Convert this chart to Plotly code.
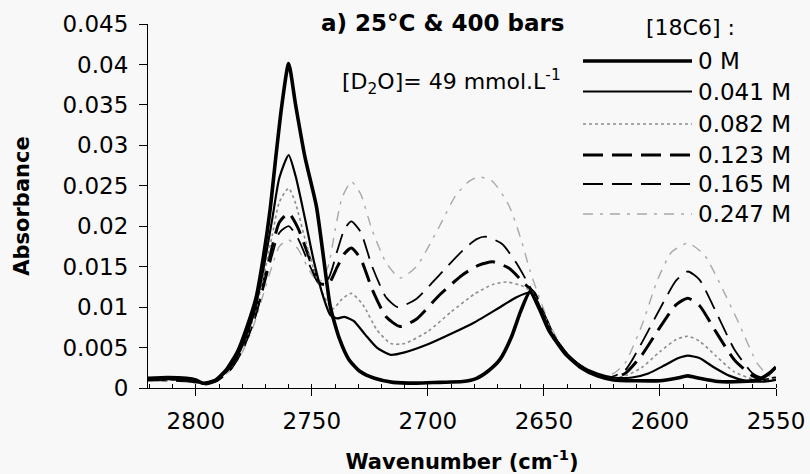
import plotly.graph_objects as go

# ---------------- data ----------------
labels = ["0 M", "0.041 M", "0.082 M", "0.123 M", "0.165 M", "0.247 M"]

wn0 = [2821, 2812, 2804, 2800, 2797, 2792, 2787, 2782, 2778, 2774, 2771, 2768, 2765.5, 2763, 2760, 2757, 2753, 2748, 2745, 2742, 2738, 2734, 2729, 2723, 2715, 2705, 2695, 2685, 2679, 2674, 2669, 2664, 2660, 2656, 2652, 2648, 2641, 2634, 2627, 2620, 2610, 2600, 2593, 2588, 2583, 2575, 2565, 2558, 2553, 2550]
a0 = [0.0012, 0.0013, 0.0012, 0.0010, 0.0006, 0.0009, 0.0022, 0.0045, 0.0075, 0.0112, 0.0160, 0.0220, 0.0286, 0.0348, 0.0401, 0.0350, 0.0286, 0.0224, 0.0162, 0.0100, 0.0060, 0.0035, 0.0020, 0.0012, 0.0007, 0.0006, 0.0007, 0.0008, 0.0012, 0.0021, 0.0035, 0.0063, 0.0095, 0.0119, 0.0098, 0.0072, 0.0043, 0.0025, 0.0015, 0.0010, 0.0009, 0.0009, 0.0012, 0.0015, 0.0012, 0.0008, 0.0008, 0.0010, 0.0018, 0.0026]

wn1 = [2821, 2812, 2804, 2799, 2796, 2791, 2785, 2780, 2775, 2771, 2767, 2764, 2760, 2757, 2753, 2749, 2745, 2742, 2739, 2736, 2732, 2727, 2722, 2716, 2710, 2700, 2690, 2680, 2670, 2662, 2656, 2652, 2648, 2641, 2634, 2627, 2620, 2612, 2605, 2598, 2592, 2588, 2583, 2577, 2570, 2563, 2555, 2550]
a1 = [0.0010, 0.0011, 0.0009, 0.0007, 0.0005, 0.0010, 0.0026, 0.0052, 0.0092, 0.0145, 0.0210, 0.0260, 0.0288, 0.0262, 0.0210, 0.0155, 0.0112, 0.0090, 0.0086, 0.0088, 0.0083, 0.0066, 0.0050, 0.0041, 0.0044, 0.0054, 0.0067, 0.0081, 0.0098, 0.0112, 0.0118, 0.0102, 0.0074, 0.0045, 0.0027, 0.0018, 0.0013, 0.0013, 0.0018, 0.0028, 0.0037, 0.0040, 0.0037, 0.0026, 0.0015, 0.0009, 0.0008, 0.0010]

wn2 = [2821, 2812, 2804, 2799, 2796, 2791, 2785, 2780, 2775, 2771, 2767, 2764, 2760, 2757, 2753, 2749, 2745, 2741, 2737, 2733, 2728, 2722, 2716, 2710, 2700, 2690, 2680, 2672, 2666, 2660, 2655, 2650, 2645, 2638, 2630, 2622, 2615, 2608, 2600, 2593, 2588, 2583, 2576, 2568, 2560, 2555, 2550]
a2 = [0.0011, 0.0010, 0.0009, 0.0006, 0.0005, 0.0010, 0.0025, 0.0050, 0.0088, 0.0135, 0.0190, 0.0230, 0.0247, 0.0228, 0.0185, 0.0145, 0.0115, 0.0098, 0.0110, 0.0117, 0.0103, 0.0072, 0.0055, 0.0055, 0.0070, 0.0094, 0.0116, 0.0128, 0.0131, 0.0127, 0.0118, 0.0090, 0.0060, 0.0035, 0.0020, 0.0013, 0.0015, 0.0025, 0.0045, 0.0060, 0.0064, 0.0058, 0.0040, 0.0020, 0.0011, 0.0009, 0.0011]

wn3 = [2821, 2812, 2804, 2799, 2796, 2791, 2785, 2780, 2775, 2771, 2767, 2764, 2760, 2756, 2751, 2747, 2743, 2739, 2736, 2733, 2729, 2724, 2718, 2712, 2705, 2695, 2685, 2678, 2672, 2665, 2658, 2654, 2650, 2645, 2638, 2630, 2622, 2615, 2608, 2600, 2593, 2588, 2583, 2576, 2568, 2560, 2555, 2550]
a3 = [0.0010, 0.0010, 0.0009, 0.0007, 0.0005, 0.0009, 0.0024, 0.0048, 0.0085, 0.0128, 0.0175, 0.0205, 0.0216, 0.0198, 0.0160, 0.0130, 0.0128, 0.0150, 0.0166, 0.0173, 0.0160, 0.0122, 0.0088, 0.0076, 0.0085, 0.0115, 0.0140, 0.0152, 0.0156, 0.0148, 0.0128, 0.0117, 0.0090, 0.0060, 0.0035, 0.0020, 0.0012, 0.0018, 0.0040, 0.0075, 0.0103, 0.0111, 0.0102, 0.0070, 0.0035, 0.0015, 0.0010, 0.0012]

wn4 = [2821, 2812, 2804, 2799, 2796, 2791, 2785, 2780, 2775, 2771, 2767, 2764, 2760, 2756, 2751, 2747, 2743, 2739, 2736, 2733, 2729, 2724, 2718, 2713, 2705, 2695, 2685, 2679, 2675, 2668, 2662, 2656, 2650, 2645, 2638, 2630, 2622, 2615, 2608, 2600, 2593, 2588, 2583, 2576, 2568, 2560, 2555, 2550]
a4 = [0.0011, 0.0010, 0.0009, 0.0007, 0.0005, 0.0009, 0.0023, 0.0046, 0.0082, 0.0122, 0.0165, 0.0192, 0.0200, 0.0185, 0.0152, 0.0130, 0.0135, 0.0170, 0.0196, 0.0206, 0.0193, 0.0150, 0.0112, 0.0100, 0.0110, 0.0140, 0.0170, 0.0184, 0.0187, 0.0178, 0.0155, 0.0125, 0.0092, 0.0062, 0.0036, 0.0020, 0.0013, 0.0022, 0.0055, 0.0098, 0.0133, 0.0144, 0.0134, 0.0095, 0.0048, 0.0018, 0.0012, 0.0013]

wn5 = [2821, 2812, 2804, 2799, 2796, 2791, 2785, 2780, 2775, 2771, 2767, 2764, 2760, 2756, 2751, 2747, 2743, 2740, 2737, 2733, 2729, 2724, 2718, 2712, 2705, 2695, 2688, 2682, 2678, 2672, 2665, 2660, 2656, 2652, 2647, 2640, 2632, 2625, 2620, 2615, 2608, 2601, 2595, 2588, 2581, 2575, 2566, 2558, 2553, 2550]
a5 = [0.0012, 0.0011, 0.0010, 0.0008, 0.0006, 0.0010, 0.0022, 0.0044, 0.0078, 0.0115, 0.0152, 0.0175, 0.0183, 0.0172, 0.0145, 0.0130, 0.0150, 0.0195, 0.0235, 0.0255, 0.0240, 0.0195, 0.0155, 0.0136, 0.0150, 0.0200, 0.0238, 0.0256, 0.0261, 0.0255, 0.0225, 0.0185, 0.0145, 0.0112, 0.0075, 0.0042, 0.0022, 0.0015, 0.0018, 0.0031, 0.0076, 0.0134, 0.0168, 0.0179, 0.0165, 0.0134, 0.0080, 0.0030, 0.0015, 0.0014]

x_ticks = [2800, 2750, 2700, 2650, 2600, 2550]
y_ticks = [0, 0.005, 0.01, 0.015, 0.02, 0.025, 0.03, 0.035, 0.04, 0.045]
y_ticktext = ["0", "0.005", "0.01", "0.015", "0.02", "0.025", "0.03", "0.035", "0.04", "0.045"]

# ---------------- styles ----------------
FONT = "DejaVu Sans, Arial, sans-serif"
BG = "#f8f8f8"
styles = [
    dict(color="#000000", width=3.6, dash="solid"),
    dict(color="#000000", width=2.2, dash="solid"),
    dict(color="#8c8c8c", width=1.6, dash="dot"),
    dict(color="#000000", width=3.0, dash="20px,9px"),
    dict(color="#000000", width=1.8, dash="20px,9px"),
    dict(color="#a8a8a8", width=1.4, dash="10px,7px,3px,7px"),
]
series = [(wn0, a0), (wn1, a1), (wn2, a2), (wn3, a3), (wn4, a4), (wn5, a5)]

fig = go.Figure()
draw_order = [5, 4, 3, 2, 1, 0]
for i in draw_order:
    wx, ay = series[i]
    fig.add_trace(go.Scatter(
        x=wx, y=ay, mode="lines", name=labels[i],
        line=dict(color=styles[i]["color"], width=styles[i]["width"],
                  dash=styles[i]["dash"], shape="spline", smoothing=0.6),
        showlegend=False, hoverinfo="skip"))

L, R, T, B = 148, 34, 24, 86
W, H = 810, 474
pw, ph = W - L - R, H - T - B

def px(xp):
    return (xp - L) / pw

def py(yp):
    return (H - B - yp) / ph

# hand-drawn legend (long line samples as in the reference), on a hidden 0..1 overlay
annotations = []
legend_rows = [61, 91.5, 124, 155, 184, 214]
for i, yrow in enumerate(legend_rows):
    fig.add_trace(go.Scatter(
        x=[px(583), px(692)], y=[py(yrow), py(yrow)], mode="lines",
        xaxis="x2", yaxis="y2", showlegend=False, hoverinfo="skip",
        line=dict(color=styles[i]["color"], width=styles[i]["width"], dash=styles[i]["dash"])))
    annotations.append(dict(xref="paper", yref="paper", x=px(696), y=py(yrow),
                            xanchor="left", yanchor="middle", showarrow=False,
                            text=labels[i], font=dict(family=FONT, size=23, color="#000")))

annotations.append(dict(xref="paper", yref="paper", x=px(690), y=py(28),
                        xanchor="center", yanchor="middle", showarrow=False,
                        text="[18C6] :", font=dict(family=FONT, size=22, color="#000")))
annotations.append(dict(xref="paper", yref="paper", x=px(443), y=py(23),
                        xanchor="center", yanchor="middle", showarrow=False,
                        text="<b>a) 25°C &amp; 400 bars</b>",
                        font=dict(family=FONT, size=23, color="#000")))
annotations.append(dict(xref="paper", yref="paper", x=px(451), y=py(82),
                        xanchor="center", yanchor="middle", showarrow=False,
                        text="[D<sub>2</sub>O]= 49 mmol.L<sup>-1</sup>",
                        font=dict(family=FONT, size=22, color="#000")))

fig.update_layout(
    width=W, height=H,
    margin=dict(l=L, r=R, t=T, b=B, autoexpand=False),
    paper_bgcolor=BG, plot_bgcolor=BG,
    font=dict(family=FONT, size=22, color="#000"),
    annotations=annotations,
    showlegend=False,
    xaxis2=dict(overlaying="x", range=[0, 1], visible=False, fixedrange=True),
    yaxis2=dict(overlaying="y", range=[0, 1], visible=False, fixedrange=True),
)
fig.update_layout(
    xaxis=dict(
        range=[2820.6, 2550], tickvals=x_ticks, ticks="outside", ticklen=7,
        tickwidth=1, tickcolor="#000", showline=True, linecolor="#000", linewidth=1.2,
        showgrid=False, zeroline=False, ticklabelstandoff=5, automargin=False,
        minor=dict(dtick=10, tick0=2550, ticks="inside", ticklen=4, tickcolor="#000", showgrid=False),
        tickfont=dict(family=FONT, size=23, color="#000"),
        title=dict(text="<b>Wavenumber (cm<sup>-1</sup>)</b>", standoff=23,
                   font=dict(family=FONT, size=21, color="#000")),
    ),
    yaxis=dict(
        range=[0, 0.045], tickvals=y_ticks, ticktext=y_ticktext, ticks="outside",
        ticklen=8, tickwidth=1, tickcolor="#000", showline=True, linecolor="#000",
        linewidth=1.2, showgrid=False, zeroline=False, ticklabelstandoff=6, automargin=False,
        tickfont=dict(family=FONT, size=23, color="#000"),
        title=dict(text="<b>Absorbance</b>", standoff=27,
                   font=dict(family=FONT, size=21, color="#000")),
    ),
)

fig.write_html("out.html")
